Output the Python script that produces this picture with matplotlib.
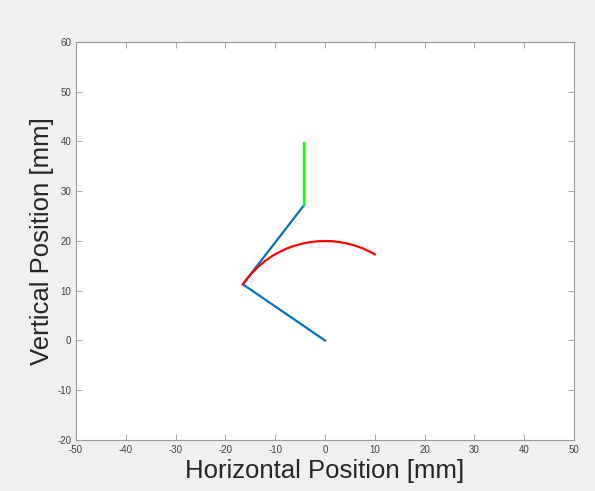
import matplotlib
matplotlib.use('Agg')
import matplotlib.pyplot as plt

# linkage arms (blue)
arm_x = [0, -16.5, -4.2]
arm_y = [0, 11.3, 27.2]

# end segment (green)
tip_x = [-4.2, -4.2]
tip_y = [27.2, 39.7]

# path traced (red)
path_x = [-16.5, -15, -13.5, -12, -10.5, -9, -7.5, -6, -4.5, -3, -1.5, 0, 1.5, 3, 4.5, 6, 7.5, 9, 10]
path_y = [11.3, 13.2, 14.75, 16.0, 17.05, 17.85, 18.55, 19.08, 19.48, 19.77, 19.94, 20.0, 19.94, 19.77, 19.48, 19.08, 18.55, 17.85, 17.3]

xticks = list(range(-50, 51, 10))
yticks = list(range(-20, 61, 10))

plt.rcParams['font.family'] = ['Liberation Sans', 'DejaVu Sans']
plt.rcParams['axes.unicode_minus'] = False

fig = plt.figure(figsize=(5.95, 4.91), dpi=100, facecolor='#f0f0f0')
ax = fig.add_axes([0.1277, 0.1039, 0.837, 0.8106])
ax.set_facecolor('white')

ax.plot(arm_x, arm_y, color='#0072BD', linewidth=1.6)
ax.plot(tip_x, tip_y, color='#00FF00', linewidth=1.6)
ax.plot(path_x, path_y, color='#FF0000', linewidth=1.6)

ax.set_xlim(-50, 50)
ax.set_ylim(-20, 60)
ax.set_xticks(xticks)
ax.set_yticks(yticks)
ax.tick_params(direction='in', top=True, right=True, length=4, width=0.6,
               labelsize=7, colors='#9a9a9a', labelcolor='#404040')
for s in ax.spines.values():
    s.set_color('#9a9a9a')
    s.set_linewidth(0.8)

ax.set_xlabel('Horizontal Position [mm]', fontsize=18.5, color='#262626', labelpad=3)
ax.set_ylabel('Vertical Position [mm]', fontsize=18.5, color='#262626', labelpad=2)

fig.savefig('out.png', dpi=100, facecolor=fig.get_facecolor())
